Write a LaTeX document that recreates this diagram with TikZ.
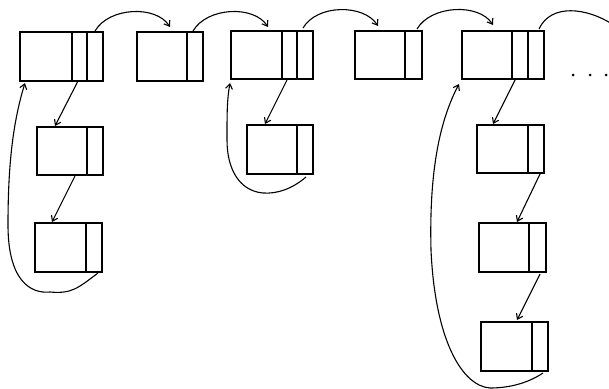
\documentclass[tikz,border=0pt]{standalone}
\usetikzlibrary{arrows.meta,calc}
\tikzset{
  cell/.style={draw, line width=1.6pt, inner sep=0pt, outer sep=0pt, minimum height=48pt},
  wide/.style={cell, minimum width=82pt},
  narrow/.style={cell, minimum width=66pt},
  link/.style={line width=1.1pt, -{Straight Barb[length=5pt,width=7pt]}},
  divline/.style={line width=1.6pt},
}
\newcommand\boxdiv[2]{\draw[divline] ($(#1.north west)+(#2,0)$) -- ($(#1.south west)+(#2,0)$);}
\begin{document}
\begin{tikzpicture}[x=1pt,y=-1pt]
\clip (0,0) rectangle (609,388);
\fill[white] (0,0) rectangle (609,388);
% top row
\node[wide,minimum width=83pt,minimum height=49pt] (A) at (61.5,56.5) {};
\boxdiv{A}{52}\boxdiv{A}{67}
\node[narrow,minimum height=49pt] (B) at (170,56.5) {};
\boxdiv{B}{50}
\node[wide] (C) at (272,55) {};
\boxdiv{C}{51}\boxdiv{C}{66}
\node[narrow,minimum width=67pt] (D) at (388.5,55) {};
\boxdiv{D}{50}
\node[wide] (E) at (503,55) {};
\boxdiv{E}{50}\boxdiv{E}{66}
% columns
\node[narrow] (A1) at (70,151) {};
\boxdiv{A1}{50}
\node[narrow,minimum width=67pt,minimum height=49pt] (A2) at (68.5,247.5) {};
\boxdiv{A2}{51}
\node[narrow,minimum height=49pt] (C1) at (280,149.5) {};
\boxdiv{C1}{50}
\node[narrow,minimum width=67pt] (E1) at (510.5,149) {};
\boxdiv{E1}{51}
\node[narrow,minimum width=67pt,minimum height=49pt] (E2) at (512.5,247.5) {};
\boxdiv{E2}{50}
\node[narrow,minimum width=67pt,minimum height=49pt] (E3) at (514.5,346.5) {};
\boxdiv{E3}{51}
% dots
\foreach \i/\x in {1/573,2/590,3/606}
  \node[circle,fill,inner sep=0pt,minimum size=3pt] (dot\i) at (\x,75) {};
% top arcs
\draw[link] ($(A.north east)+(-8,-1)$) .. controls +(14,-24) and +(-14,-22) .. ($(B.north west)+(33,-5)$);
\draw[link] ($(B.north east)+(-10,-1)$) .. controls +(14,-24) and +(-14,-22) .. ($(C.north west)+(37,-4)$);
\draw[link] ($(C.north east)+(-10,-3)$) .. controls +(14,-24) and +(-14,-22) .. ($(D.north west)+(23,-5)$);
\draw[link] ($(D.north east)+(-5,-2)$) .. controls +(14,-24) and +(-14,-22) .. ($(E.north west)+(31,-6)$);
\coordinate (off) at (612,24);
\draw[line width=1.1pt] ($(E.north east)+(-5,-2)$) .. controls +(12,-26) and +(-25,-16) .. (off);
% down arrows
\draw[link] ($(A.south west)+(58,0)$) -- ($(A1.north west)+(18,-1)$);
\draw[link] ($(A1.south west)+(38,1)$) -- ($(A2.north west)+(17,-1)$);
\draw[link] ($(C.south west)+(56,1)$) -- ($(C1.north west)+(18,-1)$);
\draw[link] ($(E.south west)+(53,1)$) -- ($(E1.north west)+(16,-1)$);
\draw[link] ($(E1.south west)+(63,1)$) -- ($(E2.north west)+(38,-1)$);
\draw[link] ($(E2.south west)+(61,2)$) -- ($(E3.north west)+(36,-2)$);
% back curves
\draw[link] ($(A2.south east)+(-4,1)$) .. controls +(-20,15) and +(22,2) .. (50,292)
  .. controls (30,294) and (8,280) .. (8,225)
  .. controls (8,170) and (12,125) .. ($(A.south west)+(5,2)$);
\draw[link] ($(C1.south east)+(-7,3)$) .. controls +(-14,12) and +(14,1) .. (263,193)
  .. controls (240,191) and (227,170) .. (227,140)
  .. controls (227,112) and (227,100) .. ($(C.south west)+(-1,4)$);
\draw[link] ($(E3.south east)+(-5,2)$) .. controls +(-18,12) and +(15,0) .. (490,388)
  .. controls (462,386) and (435,340) .. (431,250)
  .. controls (429,170) and (440,120) .. ($(E.south west)+(-3,5)$);
\end{tikzpicture}
\end{document}
